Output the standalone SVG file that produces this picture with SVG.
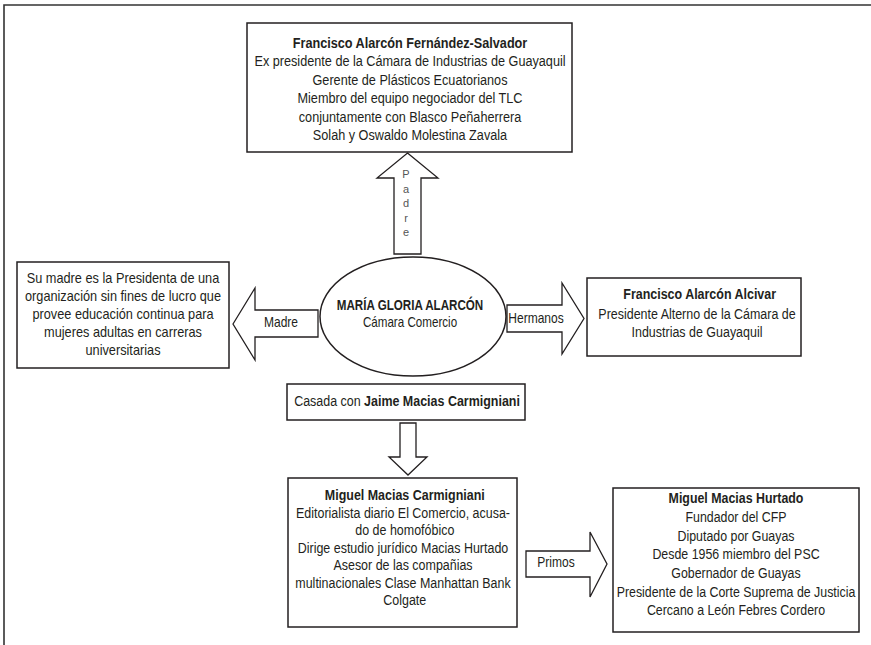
<svg xmlns="http://www.w3.org/2000/svg" width="871" height="645" viewBox="0 0 871 645">
<style>
.bx{fill:#fff;stroke:#231f20;stroke-width:1.5}
.ar{fill:#fff;stroke:#231f20;stroke-width:1.3;stroke-linejoin:miter}
text{font-family:"Liberation Sans",Arial,sans-serif;font-size:14px;fill:#231f20;text-anchor:middle}
.b{font-weight:bold}
.p{font-size:11px;fill:#555}
</style>
<rect width="871" height="645" fill="#fff"/>
<path d="M4,645 V5 H871" fill="none" stroke="#333" stroke-width="1.6"/>
<g id="connectors">
<polygon class="ar" points="407.5,153 438,178 421,178 421,254 394,254 394,178 377,178"/>
<text class="p" x="406" y="178">P</text>
<text class="p" x="406" y="192.5">a</text>
<text class="p" x="406" y="207">d</text>
<text class="p" x="406" y="221.5">r</text>
<text class="p" x="406" y="236">e</text>
<polygon class="ar" points="233,324 255,288 255,310 318,310 318,337 255,337 255,360"/>
<g transform="translate(281,0) scale(0.86,1)"><text x="0" y="327.5">Madre</text></g>
<polygon class="ar" points="507,305 562,305 562,283 584,318.5 562,354 562,332 507,332"/>
<g transform="translate(536,0) scale(0.86,1)"><text x="0" y="323">Hermanos</text></g>
<polygon class="ar" points="400,423 416,423 416,457 427,457 408,475 389,457 400,457"/>
<polygon class="ar" points="526,551 590,551 590,532 607,564 590,597 590,577 526,577"/>
<g transform="translate(556,0) scale(0.86,1)"><text x="0" y="567.5">Primos</text></g>
</g>
<g id="n-padre">
<rect class="bx" x="247" y="23" width="325" height="129"/>
<g transform="translate(410,0) scale(0.905,1)">
<text class="b" x="0" y="48">Francisco Alarcón Fernández-Salvador</text>
<text x="0" y="66.5">Ex presidente de la Cámara de Industrias de Guayaquil</text>
<text x="0" y="85">Gerente de Plásticos Ecuatorianos</text>
<text x="0" y="103.5">Miembro del equipo negociador del TLC</text>
<text x="0" y="122">conjuntamente con Blasco Peñaherrera</text>
<text x="0" y="140.5">Solah y Oswaldo Molestina Zavala</text>
</g>
</g>
<g id="n-maria">
<ellipse class="bx" cx="413" cy="316.5" rx="93" ry="59.5"/>
<g transform="translate(410,0) scale(0.83,1)">
<text class="b" x="0" y="310">MARÍA GLORIA ALARCÓN</text>
<text x="0" y="327.5">Cámara Comercio</text>
</g>
</g>
<g id="n-madre">
<rect class="bx" x="17" y="262" width="212" height="106"/>
<g transform="translate(123,0) scale(0.91,1)">
<text x="0" y="283">Su madre es la Presidenta de una</text>
<text x="0" y="301">organización sin fines de lucro que</text>
<text x="0" y="319">provee educación continua para</text>
<text x="0" y="337">mujeres adultas en carreras</text>
<text x="0" y="355">universitarias</text>
</g>
</g>
<g id="n-hermano">
<rect class="bx" x="587" y="278" width="214" height="78"/>
<g transform="translate(697,0) scale(0.89,1)">
<text class="b" x="3" y="299">Francisco Alarcón Alcivar</text>
<text x="0" y="319">Presidente Alterno de la Cámara de</text>
<text x="0" y="337">Industrias de Guayaquil</text>
</g>
</g>
<g id="n-casada">
<rect class="bx" x="287" y="384" width="238" height="36"/>
<g transform="translate(407,0) scale(0.89,1)">
<text x="0" y="406.5">Casada con <tspan class="b">Jaime Macias Carmigniani</tspan></text>
</g>
</g>
<g id="n-miguel-mc">
<rect class="bx" x="288" y="478" width="229" height="149"/>
<g transform="translate(403,0) scale(0.89,1)">
<text class="b" x="2" y="500">Miguel Macias Carmigniani</text>
<text x="0" y="518">Editorialista diario El Comercio, acusa-</text>
<text x="2" y="535.5">do de homofóbico</text>
<text x="0" y="553">Dirige estudio jurídico Macias Hurtado</text>
<text x="0" y="570.5">Asesor de las compañias</text>
<text x="0" y="588">multinacionales Clase Manhattan Bank</text>
<text x="2" y="605.5">Colgate</text>
</g>
</g>
<g id="n-miguel-mh">
<rect class="bx" x="613" y="488" width="246" height="144"/>
<g transform="translate(736,0) scale(0.885,1)">
<text class="b" x="0" y="503">Miguel Macias Hurtado</text>
<text x="0" y="522">Fundador del CFP</text>
<text x="0" y="541">Diputado por Guayas</text>
<text x="0" y="559.5">Desde 1956 miembro del PSC</text>
<text x="0" y="578">Gobernador de Guayas</text>
<text x="0" y="597">Presidente de la Corte Suprema de Justicia</text>
<text x="0" y="615.5">Cercano a León Febres Cordero</text>
</g>
</g>
</svg>
